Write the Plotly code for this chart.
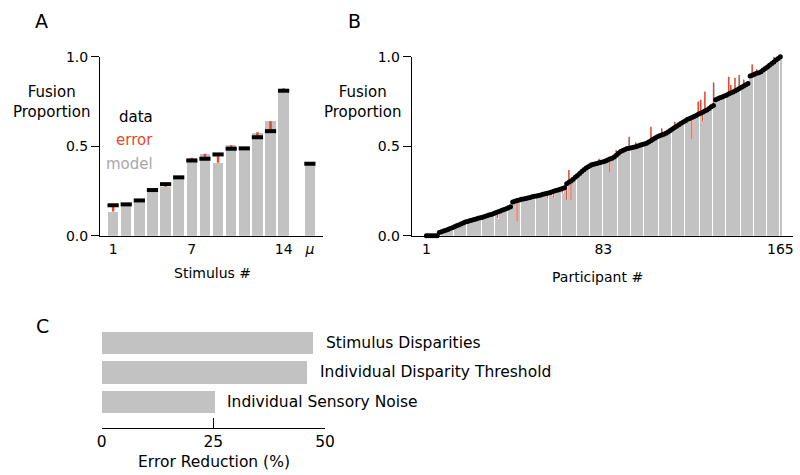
import plotly.graph_objects as go

# ---------------- Panel A data ----------------
stim_x = [1, 2, 3, 4, 5, 6, 7, 8, 9, 10, 11, 12, 13, 14, 16]
stim_data = [0.170, 0.175, 0.197, 0.255, 0.288, 0.326, 0.420, 0.430, 0.454, 0.486, 0.488, 0.550, 0.584, 0.810, 0.402]
stim_model = [0.135, 0.172, 0.195, 0.250, 0.274, 0.326, 0.436, 0.458, 0.408, 0.506, 0.488, 0.578, 0.640, 0.824, 0.400]
stim_tickvals = [1, 7, 14, 16]
stim_ticktext = ["1", "7", "14", "<i>μ</i>"]

# ---------------- Panel B data ----------------
part_data = [
    0.000, 0.000, 0.000, 0.000, 0.000, 0.000, 0.018, 0.022, 0.026, 0.030,
    0.034, 0.040, 0.045, 0.050, 0.055, 0.060, 0.066, 0.071, 0.076, 0.080,
    0.084, 0.087, 0.090, 0.093, 0.097, 0.100, 0.103, 0.107, 0.111, 0.115,
    0.119, 0.123, 0.128, 0.132, 0.137, 0.142, 0.146, 0.151, 0.156, 0.162,
    0.188, 0.192, 0.196, 0.200, 0.203, 0.205, 0.208, 0.211, 0.214, 0.217,
    0.220, 0.222, 0.225, 0.228, 0.231, 0.234, 0.237, 0.240, 0.244, 0.248,
    0.252, 0.256, 0.260, 0.263, 0.268, 0.290, 0.298, 0.306, 0.315, 0.326,
    0.337, 0.348, 0.358, 0.368, 0.378, 0.385, 0.392, 0.398, 0.401, 0.404,
    0.407, 0.410, 0.413, 0.418, 0.423, 0.428, 0.433, 0.440, 0.450, 0.460,
    0.470, 0.476, 0.482, 0.487, 0.489, 0.491, 0.494, 0.497, 0.501, 0.505,
    0.509, 0.512, 0.516, 0.524, 0.531, 0.539, 0.546, 0.553, 0.558, 0.563,
    0.567, 0.572, 0.580, 0.588, 0.596, 0.604, 0.612, 0.620, 0.628, 0.635,
    0.642, 0.650, 0.655, 0.661, 0.666, 0.672, 0.678, 0.684, 0.690, 0.696,
    0.702, 0.711, 0.720, 0.728, 0.760, 0.765, 0.770, 0.775, 0.780, 0.785,
    0.791, 0.797, 0.803, 0.809, 0.815, 0.822, 0.829, 0.836, 0.843, 0.850,
    0.892, 0.897, 0.902, 0.907, 0.911, 0.916, 0.925, 0.934, 0.943, 0.952,
    0.962, 0.971, 0.981, 0.990, 1.000,
]
# participants where the model differs visibly from the data, and the model value there
err_participants = [9, 11, 12, 13, 14, 34, 43, 57, 59, 60, 64, 66, 67, 68, 70, 77, 81, 86, 89,
                    95, 98, 100, 105, 110, 116, 124, 127, 128, 129, 130, 134, 141, 142, 144,
                    146, 148, 152, 154, 162]
err_model = [0.012, 0.020, 0.028, 0.030, 0.038, 0.097, 0.078, 0.210, 0.225, 0.212, 0.240, 0.200,
             0.367, 0.200, 0.340, 0.410, 0.430, 0.352, 0.478, 0.553, 0.522, 0.520, 0.609, 0.600,
             0.637, 0.540, 0.750, 0.760, 0.640, 0.805, 0.857, 0.888, 0.842, 0.883, 0.898, 0.873,
             0.958, 0.930, 1.000]
part_tickvals = [1, 83, 165]

# ---------------- Panel C data ----------------
factor_labels = ["Stimulus Disparities", "Individual Disparity Threshold", "Individual Sensory Noise"]
factor_values = [47.2, 45.9, 25.2]
factor_pos = [2, 1, 0]

W, H = 800, 475
RED = "#E8472B"
GRAY = "#C2C2C2"
FONT = "DejaVu Sans"


def px(x):
    return x / W


def py(y):
    return 1 - y / H


part_x = list(range(1, len(part_data) + 1))
part_model = list(part_data)
for p, m in zip(err_participants, err_model):
    part_model[p - 1] = m

fig = go.Figure()

# Panel A
fig.add_trace(go.Bar(x=stim_x, y=stim_model, width=0.8, marker=dict(color=GRAY, line=dict(width=0)),
                     xaxis="x", yaxis="y", showlegend=False))
ex, ey = [], []
for x, d, m in zip(stim_x, stim_data, stim_model):
    ex += [x, x, None]
    ey += [d, m, None]
fig.add_trace(go.Scatter(x=ex, y=ey, mode="lines", line=dict(color=RED, width=2.5),
                         xaxis="x", yaxis="y", showlegend=False))
fig.add_trace(go.Scatter(x=stim_x, y=stim_data, mode="markers",
                         marker=dict(symbol="line-ew", size=8, line=dict(width=4, color="black")),
                         xaxis="x", yaxis="y", showlegend=False, cliponaxis=False))

# Panel B
fig.add_trace(go.Bar(x=part_x, y=part_model, width=0.6, marker=dict(color=GRAY, line=dict(width=0)),
                     xaxis="x2", yaxis="y2", showlegend=False))
bx, by = [], []
for p in err_participants:
    bx += [p, p, None]
    by += [part_data[p - 1], part_model[p - 1], None]
fig.add_trace(go.Scatter(x=bx, y=by, mode="lines", line=dict(color=RED, width=1.2),
                         xaxis="x2", yaxis="y2", showlegend=False))
fig.add_trace(go.Scatter(x=part_x, y=part_data, mode="markers",
                         marker=dict(symbol="circle", size=5, color="black", line=dict(width=0)),
                         xaxis="x2", yaxis="y2", showlegend=False, cliponaxis=False))

# Panel C
fig.add_trace(go.Bar(x=factor_values, y=factor_pos, orientation="h", width=0.77,
                     marker=dict(color=GRAY, line=dict(width=0)),
                     xaxis="x3", yaxis="y3", showlegend=False))

tickfont = dict(family=FONT, size=14, color="black")
common_y = dict(range=[0, 1], tickvals=[0, 0.5, 1], ticktext=["0.0", "0.5", "1.0"],
                showline=True, linecolor="black", linewidth=1, ticks="outside", ticklen=8,
                tickcolor="black", showgrid=False, zeroline=False, tickfont=tickfont,
                domain=[py(235.7), py(56.7)], fixedrange=True, automargin=False)

fig.update_layout(
    width=W, height=H, autosize=False,
    margin=dict(l=0, r=0, t=0, b=0, autoexpand=False),
    paper_bgcolor="white", plot_bgcolor="white",
    font=dict(family=FONT, size=14, color="black"),
    bargap=0,
    xaxis=dict(domain=[px(100), px(323)], range=[0, 17], tickvals=stim_tickvals, ticktext=stim_ticktext,
               showline=True, linecolor="black", linewidth=1, ticks="", showgrid=False, zeroline=False,
               tickfont=tickfont, anchor="y", automargin=False),
    yaxis=dict(anchor="x", **common_y),
    xaxis2=dict(domain=[px(411.7), px(793.3)], range=[-5.8, 171], tickvals=part_tickvals,
                showline=True, linecolor="black", linewidth=1, ticks="", showgrid=False, zeroline=False,
                tickfont=tickfont, anchor="y2", automargin=False),
    yaxis2=dict(anchor="x2", **common_y),
    xaxis3=dict(domain=[px(101.7), px(325)], range=[0, 50], tickvals=[0, 25, 50],
                showline=True, linecolor="black", linewidth=1, ticks="inside", ticklen=10,
                tickcolor="black", showgrid=False, zeroline=False,
                tickfont=dict(family=FONT, size=15.5, color="black"), anchor="y3",
                automargin=False),
    yaxis3=dict(domain=[py(427.7), py(329.9)], range=[-0.887, 2.45], visible=False, anchor="x3",
                automargin=False),
)

ann = []


def add_text(text, x, y, size=14, color="black", xanchor="center"):
    ann.append(dict(text=text, x=px(x), y=py(y), xref="paper", yref="paper", showarrow=False,
                    xanchor=xanchor, yanchor="middle", font=dict(family=FONT, size=size, color=color)))


add_text("A", 41, 21, size=19)
add_text("B", 354, 21, size=19)
add_text("C", 42, 326, size=19)
add_text("Fusion<br>Proportion", 11, 101.5, size=15, xanchor="left")
add_text("Fusion<br>Proportion", 322, 101.5, size=15, xanchor="left")
add_text("data", 155, 117, size=15, color="black", xanchor="right")
add_text("error", 155, 140, size=15, color=RED, xanchor="right")
add_text("model", 155, 164, size=15, color="#A8A8A8", xanchor="right")
add_text("Stimulus #", 212, 273, size=14)
add_text("Participant #", 597, 277, size=14)
add_text("Error Reduction (%)", 214, 462, size=15.5)
for lab, v, pos in zip(factor_labels, factor_values, factor_pos):
    ann.append(dict(text=lab, x=v, y=pos, xref="x3", yref="y3", showarrow=False, xanchor="left",
                    yanchor="middle", xshift=11, font=dict(family=FONT, size=15.5, color="black")))
fig.update_layout(annotations=ann)

fig.write_html("out.html", config={"displayModeBar": False},
               post_script="document.body.style.margin='0px';document.body.style.overflow='hidden';")
